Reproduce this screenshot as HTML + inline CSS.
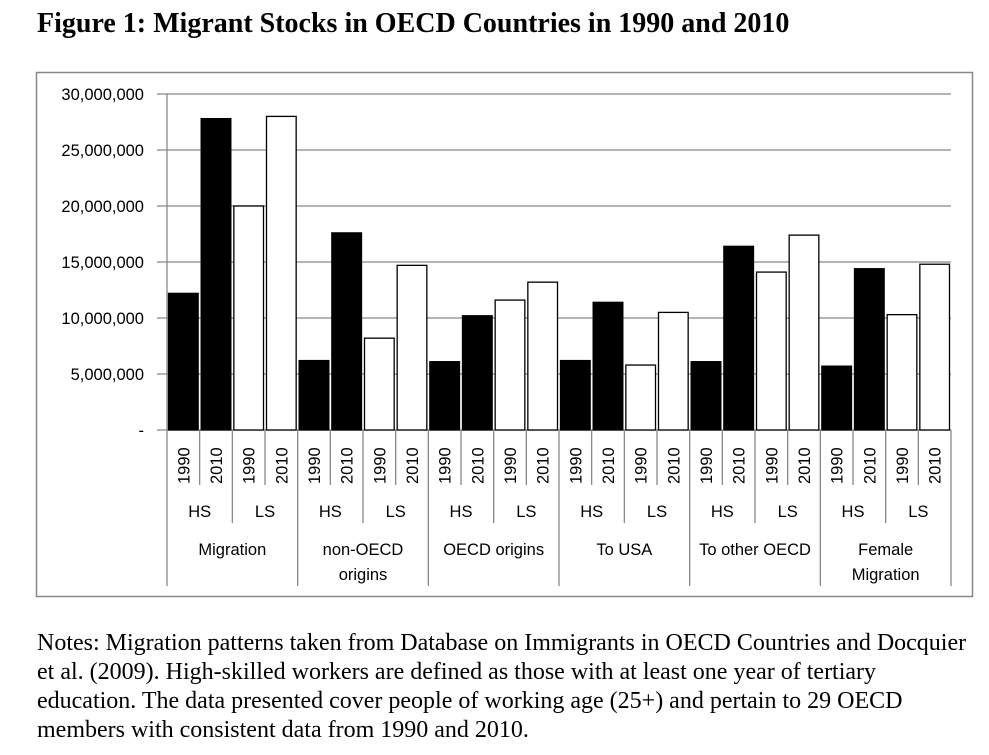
<!DOCTYPE html>
<html><head><meta charset="utf-8"><style>
body{margin:0;background:#fff;width:989px;height:755px;overflow:hidden;position:relative;font-family:"Liberation Serif",serif}
#title{position:absolute;left:37px;top:8px;font-size:28px;font-weight:bold;white-space:nowrap}
#notes{position:absolute;left:37px;top:629px;font-size:24px;line-height:29px;white-space:nowrap}
svg{position:absolute;left:0;top:0}
</style></head><body>
<div id="title">Figure 1: Migrant Stocks in OECD Countries in 1990 and 2010</div>
<svg id="chart" width="989" height="620"></svg>
<div id="notes">Notes: Migration patterns taken from Database on Immigrants in OECD Countries and Docquier<br>et al. (2009). High-skilled workers are defined as those with at least one year of tertiary<br>education. The data presented cover people of working age (25+) and pertain to 29 OECD<br>members with consistent data from 1990 and 2010.</div>
<script>
const groups=[["Migration"],["non-OECD","origins"],["OECD origins"],["To USA"],["To other OECD"],["Female","Migration"]];
const skills=["HS","LS"];
const years=["1990","2010"];
const hs1990=[12.2,6.2,6.1,6.2,6.1,5.7];
const hs2010=[27.8,17.6,10.2,11.4,16.4,14.4];
const ls1990=[20.0,8.2,11.6,5.8,14.1,10.3];
const ls2010=[28.0,14.7,13.2,10.5,17.4,14.8];
const ticks=[0,5,10,15,20,25,30];
const tickLabels=["-","5,000,000","10,000,000","15,000,000","20,000,000","25,000,000","30,000,000"];

const svg=document.getElementById('chart');const NS="http://www.w3.org/2000/svg";
function mk(t,a,p){const e=document.createElementNS(NS,t);for(const k in a)e.setAttribute(k,a[k]);(p||svg).appendChild(e);return e;}
const X0=167,X1=951,Y0=430,Y1=94,F="Liberation Sans, sans-serif",FS=16.5;
const y=v=>Y0-(v/30)*(Y0-Y1);
const slot=(X1-X0)/24;
const border=mk('rect',{x:36.5,y:72.5,width:936,height:524,fill:'none',stroke:'#888','stroke-width':1.5});


ticks.forEach((t,i)=>{
  const yy=y(t);
  if(t>0){const g=mk('line',{x1:X0-10,x2:X1,y1:yy,y2:yy,stroke:'#888','stroke-width':1.3});
  
  }
  const tx=mk('text',{x:144,y:yy+6,'text-anchor':'end','font-family':F,'font-size':FS});
  tx.textContent=tickLabels[i];
  
  
});
const ax=mk('line',{x1:X0,x2:X0,y1:Y1,y2:Y0,stroke:'#888','stroke-width':1.3});


const xa=mk('line',{x1:X0-10,x2:X1,y1:Y0,y2:Y0,stroke:'#888','stroke-width':1.3});


const series=[hs1990,hs2010,ls1990,ls2010];
groups.forEach((g,gi)=>{
  series.forEach((s,si)=>{
    const i=gi*4+si;const xs=X0+i*slot;
    const r=mk('rect',{x:xs+1.5,y:y(s[gi]),width:slot-3,height:Y0-y(s[gi]),fill:si<2?'#000':'#fff',stroke:'#000','stroke-width':1.3});
    
    
    const t=mk('text',{transform:`translate(${xs+slot/2+6},484) rotate(-90)`,'font-family':F,'font-size':FS});
    t.textContent=years[si%2];
    
    
    const len=(i%4==0)?586:(i%2==0?523:485);
    const l=mk('line',{x1:xs,x2:xs,y1:Y0,y2:len,stroke:'#888','stroke-width':1.3});
    
    
  });
  skills.forEach((sk,k)=>{
    const t=mk('text',{x:X0+(gi*4+k*2+1)*slot,y:517,'text-anchor':'middle','font-family':F,'font-size':FS});
    t.textContent=sk;
    
    
  });
  g.forEach((line,li)=>{
    const t=mk('text',{x:X0+(gi*4+2)*slot,y:555+li*25,'text-anchor':'middle','font-family':F,'font-size':FS});
    t.textContent=line;
    
    
  });
});
const le=mk('line',{x1:X1,x2:X1,y1:Y0,y2:586,stroke:'#888','stroke-width':1.3});


</script>
</body></html>
